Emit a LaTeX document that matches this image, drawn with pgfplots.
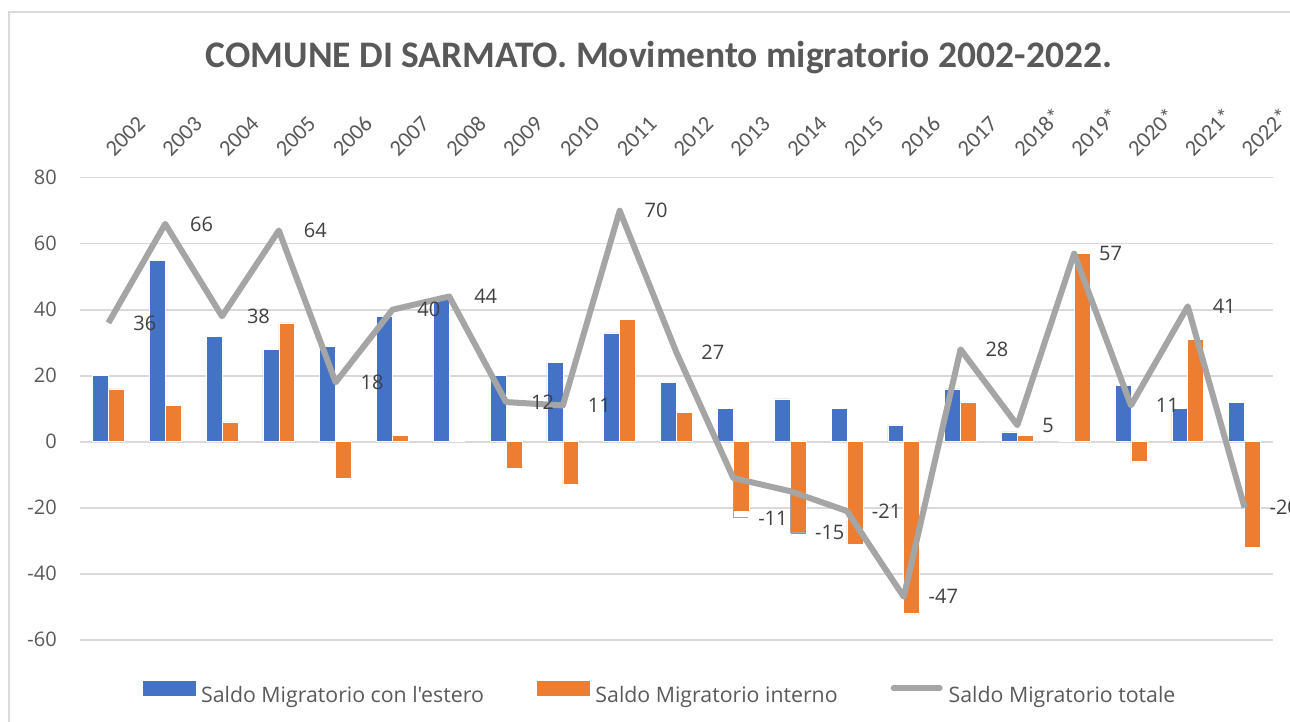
\documentclass[border=0pt]{standalone}
\usepackage{fontspec}
\setmainfont{Open Sans}[Ligatures=TeXOff]
\newfontfamily\calibri{Carlito}
\usepackage{pgfplots}
\pgfplotsset{compat=1.18}
\usepackage{pgfplotstable}

\definecolor{estblue}{HTML}{4472C4}
\definecolor{intorange}{HTML}{ED7D31}
\definecolor{totgray}{HTML}{A5A5A5}
\definecolor{gridgray}{HTML}{D9D9D9}
\definecolor{txtgray}{HTML}{595959}
\definecolor{lblgray}{HTML}{404040}

% x = category index, est = estero, int = interno, tot = totale, dy = label shift
\pgfplotstableread{
x est int tot dy
0 20 16 36 0
1 55 11 66 0
2 32 6 38 0
3 28 36 64 0
4 29 -11 18 0
5 38 2 40 0
6 44 0 44 0
7 20 -8 12 0
8 24 -13 11 0
9 33 37 70 0
10 18 9 27 0
11 10 -21 -11 -40
12 13 -28 -15 -41
13 10 -31 -21 0
14 5 -52 -47 0
15 16 12 28 0
16 3 2 5 0
17 0 57 57 0
18 17 -6 11 0
19 10 31 41 0
20 12 -32 -20 0
}\datatable

\begin{document}
\begin{tikzpicture}
\useasboundingbox (0,0) rectangle (1290pt,-722pt);
\draw[gridgray, line width=1.5pt] (1320pt,-12pt) -- (9pt,-12pt) -- (9pt,-740pt);
\node[anchor=base, text=txtgray, font=\calibri\bfseries\fontsize{37.5}{44}\selectfont]
  at (659pt,-68pt) {COMUNE DI SARMATO. Movimento migratorio 2002-2022.};
\begin{axis}[
    at={(80pt,-639.7pt)}, anchor=south west,
    scale only axis, width=1193pt, height=462pt,
    xmin=-0.5, xmax=20.5, ymin=-60, ymax=80,
    clip=false,
    axis line style={draw=none},
    major tick length=0pt,
    ytick={-60,-40,...,80},
    ymajorgrids, grid style={gridgray, line width=1.6pt},
    xtick={0,...,20},
    xticklabels={2002,2003,2004,2005,2006,2007,2008,2009,2010,2011,2012,2013,2014,2015,2016,2017,2018*,2019*,2020*,2021*,2022*},
    xticklabel pos=upper,
    xticklabel style={font=\calibri\fontsize{22.5}{26}\selectfont, text=txtgray,
        xshift=6pt, yshift=20pt, rotate=45, anchor=south west, inner sep=0pt},
    yticklabel style={font=\fontsize{20}{24}\selectfont, text=txtgray,
        anchor=east, inner sep=0pt, xshift=-23pt},
    /pgf/number format/assume math mode=true,
    legend columns=3,
    legend style={at={(0.4853,-0.114)}, anchor=center, draw=none, fill=none,
        font=\fontsize{21.3}{25}\selectfont, text=txtgray, inner sep=0pt,
        nodes={inner sep=0pt},
        /tikz/every odd column/.append style={column sep=6pt},
        /tikz/every even column/.append style={column sep=53pt}},
]
\addplot[ybar, bar width=0.28, bar shift=-0.14, fill=estblue, draw=white, line width=0.6pt,
    legend image code/.code={\fill[estblue] (0pt,0pt) rectangle (52pt,14pt);}]
    table[x=x, y=est] {\datatable};
\addlegendentry{Saldo Migratorio con l'estero}
\addplot[ybar, bar width=0.28, bar shift=0.14, fill=intorange, draw=white, line width=0.6pt,
    legend image code/.code={\fill[intorange] (0pt,0pt) rectangle (52pt,14pt);}]
    table[x=x, y=int] {\datatable};
\addlegendentry{Saldo Migratorio interno}
\addplot[totgray, line width=6pt, line join=round, mark=none,
    legend image code/.code={\draw[totgray, line width=6pt, line cap=round] (3pt,7pt) -- (49pt,7pt);},
    nodes near coords={\pgfmathprintnumber[assume math mode=true]{\pgfplotspointmeta}},
    point meta=explicit,
    visualization depends on={\thisrow{dy} \as \dy},
    every node near coord/.append style={anchor=west, inner sep=0pt, xshift=22pt, yshift=\dy,
        font=\fontsize{20}{24}\selectfont, text=lblgray}]
    table[x=x, y=tot, meta=tot] {\datatable};
\addlegendentry{Saldo Migratorio totale}
\draw[totgray, line width=1pt] (axis cs:11,-11) -- (axis cs:11,-23) -- (axis cs:11.25,-23);
\draw[totgray, line width=1pt] (axis cs:12,-15) -- (axis cs:12,-27.5) -- (axis cs:12.26,-27.5);
\end{axis}
\end{tikzpicture}
\end{document}
